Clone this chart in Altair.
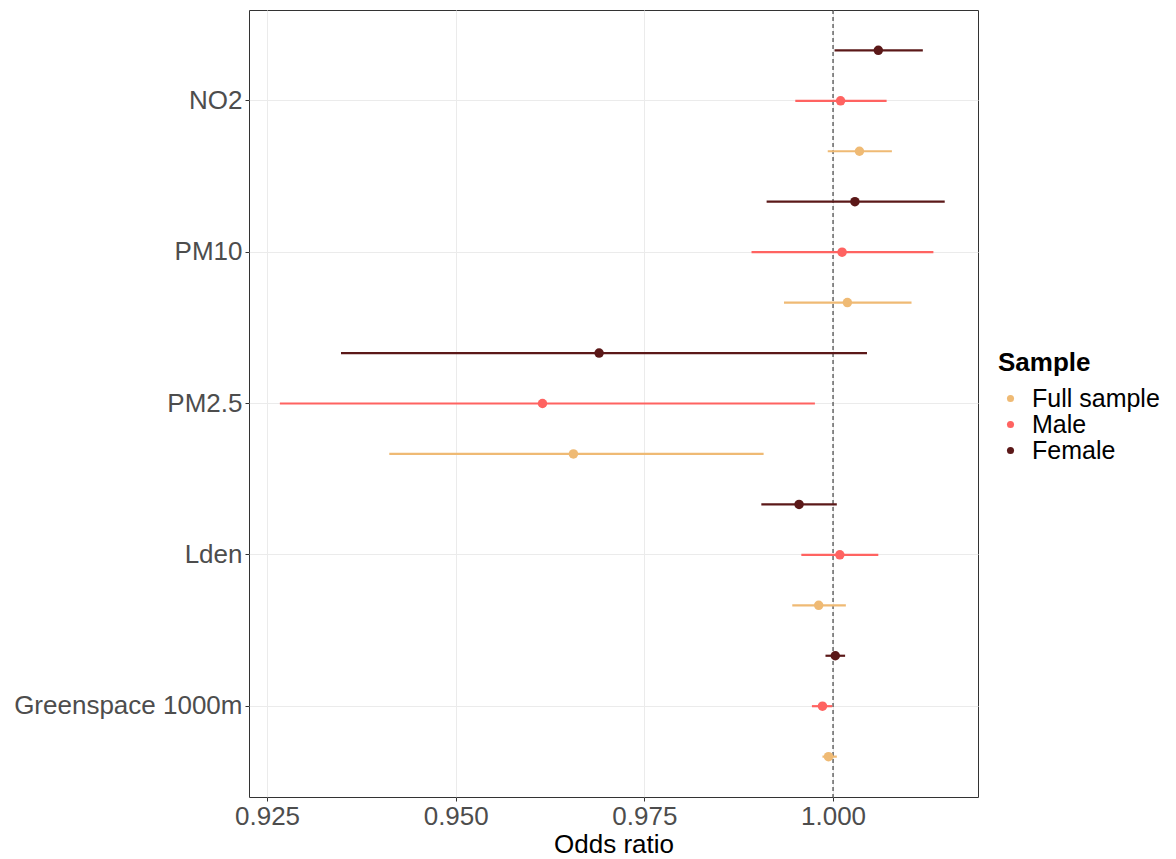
import altair as alt
import pandas as pd

exposures = ["NO2", "PM10", "PM2.5", "Lden", "Greenspace 1000m"]
samples = ["Full sample", "Male", "Female"]
offset_order = ["Female", "Male", "Full sample"]
colors = ["#EFBA74", "#FF6361", "#5B1818"]

# estimates per exposure, order: Full sample, Male, Female
or_full = [1.0035, 1.0019, 0.9656, 0.9981, 0.9994]
lo_full = [0.9993, 0.9935, 0.9412, 0.9946, 0.9986]
hi_full = [1.0078, 1.0104, 0.9908, 1.0017, 1.0005]

or_male = [1.0010, 1.0012, 0.9615, 1.0009, 0.9986]
lo_male = [0.9950, 0.9892, 0.9267, 0.9958, 0.9972]
hi_male = [1.0071, 1.0133, 0.9976, 1.0060, 0.9999]

or_female = [1.0060, 1.0029, 0.9690, 0.9955, 1.0003]
lo_female = [1.0002, 0.9912, 0.9348, 0.9905, 0.9990]
hi_female = [1.0119, 1.0148, 1.0045, 1.0005, 1.0016]

ref_value = [1.0]
x_ticks = [0.925, 0.950, 0.975, 1.000]
x_domain = [0.92261, 1.01921]

rows = []
for s, o, l, h in [("Full sample", or_full, lo_full, hi_full),
                   ("Male", or_male, lo_male, hi_male),
                   ("Female", or_female, lo_female, hi_female)]:
    for i, e in enumerate(exposures):
        rows.append({"Exposure": e, "Sample": s, "OR": o[i], "lo": l[i], "hi": h[i]})
df = pd.DataFrame(rows)

FONT = "Liberation Sans"
FS = 26

y_enc = alt.Y("Exposure:N", sort=exposures,
              scale=alt.Scale(paddingInner=0, paddingOuter=0.1),
              axis=alt.Axis(title=None, labelFontSize=FS, labelColor="#4D4D4D",
                            labelPadding=3, ticks=True, tickSize=4, tickColor="#333333",
                            tickWidth=1, tickBand="center", labelLimit=0,
                            domain=False, grid=True,
                            gridColor="#EBEBEB", gridWidth=1, bandPosition=0.5,
                            labelFont=FONT))
yoff_enc = alt.YOffset("Sample:N", sort=offset_order,
                       scale=alt.Scale(domain=offset_order, paddingInner=0, paddingOuter=0))
x_scale = alt.Scale(domain=x_domain, nice=False, zero=False)
color_enc = alt.Color("Sample:N",
                      scale=alt.Scale(domain=samples, range=colors),
                      legend=alt.Legend(title="Sample", orient="none", legendX=749, legendY=340,
                                        titleFontSize=FS, titleFont=FONT, titleFontWeight="bold",
                                        titleColor="black", labelFontSize=25, labelFont=FONT,
                                        labelColor="black", symbolType="circle", symbolSize=50,
                                        rowPadding=0, titlePadding=10, labelOffset=9,
                                        symbolStrokeWidth=0, labelLimit=0))

bars = alt.Chart(df).mark_rule(strokeWidth=2.2).encode(
    y=y_enc, yOffset=yoff_enc,
    x=alt.X("lo:Q", scale=x_scale,
            axis=alt.Axis(title="Odds ratio", values=x_ticks, format=".3f",
                          labelFontSize=FS, labelColor="#4D4D4D", labelFont=FONT,
                          titleFontSize=FS, titleFont=FONT, titleColor="black",
                          titleFontWeight="normal", titlePadding=2,
                          labelPadding=2, ticks=True, tickSize=4, tickColor="#333333",
                          tickWidth=1, domain=False,
                          grid=True, gridColor="#EBEBEB", gridWidth=1)),
    x2="hi:Q",
    color=color_enc,
)

points = alt.Chart(df).mark_circle(size=90, opacity=1).encode(
    y=y_enc, yOffset=yoff_enc,
    x=alt.X("OR:Q", scale=x_scale),
    color=color_enc,
)

ref = alt.Chart(pd.DataFrame({"x": ref_value})).mark_rule(
    strokeDash=[4, 3], color="#333333", strokeWidth=1.1
).encode(x=alt.X("x:Q", scale=x_scale))

chart = alt.layer(ref, bars, points).properties(
    width=729, height=787,
    background="white",
    autosize=alt.AutoSizeParams(type="none"),
    padding={"left": 241, "top": 2, "right": 190, "bottom": 60},
).configure_view(
    stroke="#333333", strokeWidth=1
)

chart.save("out.html", embed_options={"renderer": "svg", "actions": False})
